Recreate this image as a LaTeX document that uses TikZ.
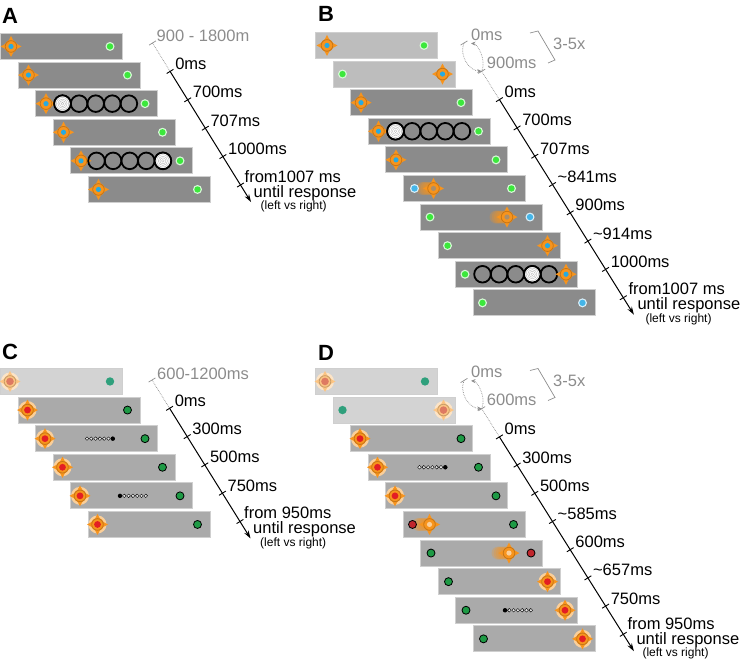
\documentclass[tikz,border=0pt]{standalone}
\usepackage{fontspec}
\setmainfont{Liberation Sans}
\usetikzlibrary{positioning, arrows.meta, calc}

\definecolor{darkfr}{HTML}{8B8B8B}
\definecolor{lightfr}{HTML}{BDBDBD}
\definecolor{midfr}{HTML}{AAAAAA}
\definecolor{palefr}{HTML}{D3D3D3}
\definecolor{frameedge}{HTML}{CFCFCF}
\definecolor{fixorange}{HTML}{F7941D}
\colorlet{paleorange}{fixorange!55!white}
\colorlet{bloborange}{fixorange!45!white}
\colorlet{blobgray}{darkfr!70!fixorange}
\definecolor{fixblue}{HTML}{27AAE1}
\definecolor{fixred}{HTML}{E31E24}
\definecolor{fixpale}{HTML}{DE7A62}
\definecolor{brightgreen}{HTML}{3CE83C}
\definecolor{cyandot}{HTML}{45B5E8}
\definecolor{darkgreen}{HTML}{1E9A45}
\definecolor{tealdot}{HTML}{2FA07C}
\definecolor{darkred}{HTML}{C1272D}
\definecolor{timegray}{HTML}{8C8C8C}

% crosshair: spike colour, centre colour, centre radius
\newcommand{\fixdraw}[3]{%
  \foreach \a in {0,90,180,270}
    \fill[#1, rotate=\a] (4,-3.4) -- (10.5,0) -- (4,3.4) -- cycle;
  \fill[#1] (0,0) circle (6.4);
  \draw[#1!80!black, line width=0.8pt] (0,0) circle (5.8);
  \fill[#2] (0,0) circle (#3);
}

\begin{document}
\begin{tikzpicture}[x=1pt, y=-1pt,
    trialbox/.style={rectangle, draw=frameedge, line width=0.9pt, minimum width=122pt, minimum height=26pt, inner sep=0pt, anchor=north west},
    darkframe/.style={trialbox, fill=darkfr},
    lightframe/.style={trialbox, fill=lightfr},
    midframe/.style={trialbox, fill=midfr},
    paleframe/.style={trialbox, fill=palefr},
    panel/.style={anchor=base west, inner sep=0pt, font=\bfseries\fontsize{22}{24}\selectfont},
    timelabel/.style={anchor=base west, inner sep=0pt, font=\fontsize{16.5}{18}\selectfont},
    dimlabel/.style={timelabel, text=timegray},
    smalllabel/.style={anchor=base west, inner sep=0pt, font=\fontsize{12}{13}\selectfont},
    timeline/.style={draw=black, line width=1pt, -{Stealth[length=8pt, width=5pt]}},
    dimline/.style={draw=timegray, densely dotted, line width=0.7pt},
    bracketline/.style={draw=timegray, line width=0.7pt},
    looparc/.style={dimline, -{Stealth[length=4.5pt, width=4pt]}},
    fix/.pic={\fixdraw{fixorange}{#1}{2.6}},
    fixh/.pic={\fill[fixorange!45] (0,0) circle (9); \fixdraw{fixorange}{#1}{3.4}},
    fixfaint/.pic={\fill[fixorange!25] (0,0) circle (9); \fixdraw{paleorange}{#1}{3.8}},
    blob/.pic={\foreach \i in {5,...,1} \fill[fixorange, opacity=0.25] ({-2.2*\i},0) circle (6.5);
               \fixdraw{fixorange}{#1}{2.6}},
    glow/.pic={\fill[white!80!#1] (0,0) circle (4.5); \fill[#1] (0,0) circle (3.2);},
    odot/.pic={\filldraw[fill=#1, draw=black, line width=0.8pt] (0,0) circle (4);},
    tdot/.pic={\fill[tealdot] (0,0) circle (4.2);},
    rings/.pic={\foreach \i in {0,...,4} \draw[line width=1.8pt] ({16.6*\i},0) circle (8.3);},
    target/.pic={\fill[white] (0,0) circle (8.3);
                 \foreach \r in {6.2,4.6,3,1.4} \draw[gray!55, line width=0.4pt] (0,0) circle (\r);
                 \draw[line width=1.8pt] (0,0) circle (8.3);},
    dotrow/.pic={\foreach \i in {0,...,6} \draw[fill=white!80!gray, line width=0.4pt] ({4.3*\i},0) circle (1.8);
                 \fill ({4.3*#1},0) circle (2.2);},
    tmark/.pic={\draw[pic actions] (-3.4,2.1) -- (3.4,-2.1);}]

  \useasboundingbox (0,0) rectangle (745,662);

  % ---- panel A
  \node[panel] (pA) at (2,23) {A};
  \foreach \k in {0,...,5}
    \node[darkframe] (a\k) at ({17.5*\k},{33+28.6*\k}) {};
  \foreach \k in {0,...,5} {
    \pic at ($(a\k.west)+(11,0)$) {fix=fixblue};
    \pic at ($(a\k.west)+(110,0)$) {glow=brightgreen};
  }
  \pic at ($(a2.west)+(27.5,0)$) {rings};
  \pic at ($(a2.west)+(27.5,0)$) {target};
  \pic at ($(a4.west)+(26.5,0)$) {rings};
  \pic at ($(a4.west)+(92.9,0)$) {target};

  \foreach \k in {0,...,5}
    \coordinate (ta\k) at ({152.5+17.6*\k},{43+28.4*\k});
  \coordinate (ta-end) at ({152.5+17.6*5.6},{43+28.4*5.6});
  \draw[dimline] (ta0) -- (ta1);
  \draw[timeline] (ta1) -- (ta-end);
  \pic[timegray, line width=0.7pt] at (ta0) {tmark};
  \foreach \k in {1,...,5} \pic[line width=0.9pt] at (ta\k) {tmark};
  \node[dimlabel] (la0) at ($(ta0)+(4,-2)$) {900 - 1800m};
  \foreach \lab [count=\k] in {0ms,700ms,707ms,1000ms}
    \node[timelabel] (la\k) at ($(ta\k)+(5,-2)$) {\lab};
  \node[timelabel] (fa) at ($(ta5)+(4,-3)$) {from1007 ms};
  \node[timelabel] (ua) at ($(fa.base west)+(9,15)$) {until response};
  \node[smalllabel] (ra) at ($(fa.base west)+(16,27.5)$) {(left vs right)};

  % ---- panel B
  \node[panel] (pB) at (318,21) {B};
  \foreach \k in {0,1}
    \node[lightframe] (b\k) at ({315+17.5*\k},{32+28.6*\k}) {};
  \foreach \k in {2,...,9}
    \node[darkframe] (b\k) at ({315+17.5*\k},{32+28.6*\k}) {};
  \pic at ($(b0.west)+(12,0)$) {fix=fixblue};
  \pic at ($(b0.west)+(109,0)$) {glow=brightgreen};
  \pic at ($(b1.west)+(10,0)$) {glow=brightgreen};
  \pic at ($(b1.west)+(110,0)$) {fix=fixblue};
  \foreach \k in {2,3,4} {
    \pic at ($(b\k.west)+(11,0)$) {fix=fixblue};
    \pic at ($(b\k.west)+(111,0)$) {glow=brightgreen};
  }
  \pic at ($(b3.west)+(28,0)$) {rings};
  \pic at ($(b3.west)+(28,0)$) {target};
  \pic at ($(b5.west)+(31,0)$) {blob=blobgray};
  \pic at ($(b5.west)+(12,0)$) {glow=cyandot};
  \pic at ($(b5.west)+(109,0)$) {glow=brightgreen};
  \pic at ($(b6.west)+(10,0)$) {glow=brightgreen};
  \pic at ($(b6.west)+(87,0)$) {blob=blobgray};
  \pic at ($(b6.west)+(110,0)$) {glow=cyandot};
  \pic at ($(b7.west)+(10,0)$) {glow=brightgreen};
  \pic at ($(b7.west)+(110,0)$) {fix=fixblue};
  \pic at ($(b8.west)+(10,0)$) {glow=brightgreen};
  \pic at ($(b8.west)+(27.5,0)$) {rings};
  \pic at ($(b8.west)+(77.3,0)$) {target};
  \pic at ($(b8.west)+(111,0)$) {fix=fixblue};
  \pic at ($(b9.west)+(10,0)$) {glow=brightgreen};
  \pic at ($(b9.west)+(110,0)$) {glow=cyandot};

  \foreach \k in {0,...,9}
    \coordinate (tb\k) at ({464+17.7*\k},{43+28.3*\k});
  \coordinate (tb-end) at ({464+17.7*9.6},{43+28.3*9.6});
  \draw[looparc] (tb0) to[bend right=55] (tb1);
  \draw[looparc, shorten >=7pt] (tb1) to[bend right=55] (tb0);
  \draw[dimline] (tb1) -- (tb2);
  \draw[timeline] (tb2) -- (tb-end);
  \foreach \k in {0,1} \pic[timegray, line width=0.7pt] at (tb\k) {tmark};
  \foreach \k in {2,...,9} \pic[line width=0.9pt] at (tb\k) {tmark};
  \draw[bracketline] ($(tb0)+(66,-10)$) -- ++(8,-2) -- ++(17,29) -- ++(-7,3);
  \node[dimlabel] (nb) at ($(tb0)+(89,6)$) {3-5x};
  \node[dimlabel] (lb0) at ($(tb0)+(7,-3)$) {0ms};
  \node[dimlabel] (lb1) at ($(tb1)+(5,-3)$) {900ms};
  \foreach \lab [count=\k from 2] in {0ms,700ms,707ms,\textasciitilde841ms,900ms,\textasciitilde914ms,1000ms}
    \node[timelabel] (lb\k) at ($(tb\k)+(5,-2)$) {\lab};
  \node[timelabel] (fb) at ($(tb9)+(5,-3)$) {from1007 ms};
  \node[timelabel] (ub) at ($(fb.base west)+(9,15)$) {until response};
  \node[smalllabel] (rb) at ($(fb.base west)+(17,27.5)$) {(left vs right)};

  % ---- panel C
  \node[panel] (pC) at (2,359) {C};
  \node[paleframe] (c0) at (0,368) {};
  \foreach \k in {1,...,5}
    \node[midframe] (c\k) at ({17.5*\k},{368+28.6*\k}) {};
  \pic at ($(c0.west)+(10,0)$) {fixfaint=fixpale};
  \pic at ($(c0.west)+(110,0)$) {tdot};
  \foreach \k in {1,...,5} {
    \pic at ($(c\k.west)+(10,0)$) {fixh=fixred};
    \pic at ($(c\k.west)+(110,0)$) {odot=darkgreen};
  }
  \pic at ($(c2.west)+(52,0)$) {dotrow=6};
  \pic at ($(c4.west)+(50,0)$) {dotrow=0};

  \foreach \k in {0,...,5}
    \coordinate (tc\k) at ({152+17.6*\k},{380+28.3*\k});
  \coordinate (tc-end) at ({152+17.6*5.6},{380+28.3*5.6});
  \draw[dimline] (tc0) -- (tc1);
  \draw[timeline] (tc1) -- (tc-end);
  \pic[timegray, line width=0.7pt] at (tc0) {tmark};
  \foreach \k in {1,...,5} \pic[line width=0.9pt] at (tc\k) {tmark};
  \node[dimlabel] (lc0) at ($(tc0)+(5,-1)$) {600-1200ms};
  \foreach \lab [count=\k] in {0ms,300ms,500ms,750ms}
    \node[timelabel] (lc\k) at ($(tc\k)+(5,-2)$) {\lab};
  \node[timelabel] (fc) at ($(tc5)+(4,-3)$) {from 950ms};
  \node[timelabel] (uc) at ($(fc.base west)+(9,15)$) {until response};
  \node[smalllabel] (rc) at ($(fc.base west)+(16,27.5)$) {(left vs right)};

  % ---- panel D
  \node[panel] (pD) at (318,360) {D};
  \foreach \k in {0,1}
    \node[paleframe] (d\k) at ({315+17.5*\k},{368+28.6*\k}) {};
  \foreach \k in {2,...,9}
    \node[midframe] (d\k) at ({315+17.5*\k},{368+28.6*\k}) {};
  \pic at ($(d0.west)+(10,0)$) {fixfaint=fixpale};
  \pic at ($(d0.west)+(110,0)$) {tdot};
  \pic at ($(d1.west)+(10,0)$) {tdot};
  \pic at ($(d1.west)+(111,0)$) {fixfaint=fixpale};
  \foreach \k in {2,3,4} {
    \pic at ($(d\k.west)+(10,0)$) {fixh=fixred};
    \pic at ($(d\k.west)+(111,0)$) {odot=darkgreen};
  }
  \pic at ($(d3.west)+(52,0)$) {dotrow=6};
  \pic at ($(d5.west)+(27,0)$) {blob=bloborange};
  \pic at ($(d5.west)+(10,0)$) {odot=darkred};
  \pic at ($(d5.west)+(111,0)$) {odot=darkgreen};
  \pic at ($(d6.west)+(11,0)$) {odot=darkgreen};
  \pic at ($(d6.west)+(89,0)$) {blob=bloborange};
  \pic at ($(d6.west)+(111,0)$) {odot=darkred};
  \foreach \k in {7,8,9} {
    \pic at ($(d\k.west)+(11,0)$) {odot=darkgreen};
    \pic at ($(d\k.west)+(110,0)$) {fixh=fixred};
  }
  \pic at ($(d8.west)+(50,0)$) {dotrow=0};

  \foreach \k in {0,...,9}
    \coordinate (td\k) at ({464+17.7*\k},{380.5+28.2*\k});
  \coordinate (td-end) at ({464+17.7*9.6},{380.5+28.2*9.6});
  \draw[looparc] (td0) to[bend right=55] (td1);
  \draw[looparc, shorten >=7pt] (td1) to[bend right=55] (td0);
  \draw[dimline] (td1) -- (td2);
  \draw[timeline] (td2) -- (td-end);
  \foreach \k in {0,1} \pic[timegray, line width=0.7pt] at (td\k) {tmark};
  \foreach \k in {2,...,9} \pic[line width=0.9pt] at (td\k) {tmark};
  \draw[bracketline] ($(td0)+(66,-10)$) -- ++(8,-2) -- ++(17,29) -- ++(-7,3);
  \node[dimlabel] (nd) at ($(td0)+(89,6)$) {3-5x};
  \node[dimlabel] (ld0) at ($(td0)+(7,-3)$) {0ms};
  \node[dimlabel] (ld1) at ($(td1)+(5,-3)$) {600ms};
  \foreach \lab [count=\k from 2] in {0ms,300ms,500ms,\textasciitilde585ms,600ms,\textasciitilde657ms,750ms}
    \node[timelabel] (ld\k) at ($(td\k)+(5,-2)$) {\lab};
  \node[timelabel] (fd) at ($(td9)+(4,-4.5)$) {from 950ms};
  \node[timelabel] (ud) at ($(fd.base west)+(9,15)$) {until response};
  \node[smalllabel] (rd) at ($(fd.base west)+(15,27)$) {(left vs right)};
\end{tikzpicture}
\end{document}
